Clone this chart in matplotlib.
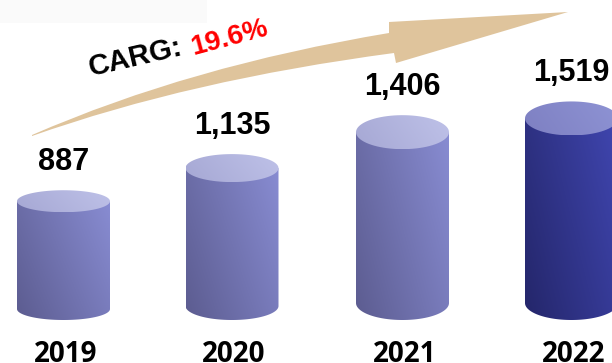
import numpy as np
import matplotlib.pyplot as plt
from matplotlib.path import Path
from matplotlib.patches import PathPatch, Rectangle

years = ["2019", "2020", "2021", "2022"]
values = [887, 1135, 1406, 1519]
value_labels = ["887", "1,135", "1,406", "1,519"]
growth_label = "19.6%"

# layout in pixel units (y grows downward)
W, H = 612, 363
centers = [63.5, 232, 402.5, 571.5]
half_w = 46.5
depth = [11, 14, 17, 17]          # half height of the ellipses
base = 320                        # lowest point of every cylinder
px_per_unit = 0.1215

# colours: (body dark, body light, cap dark, cap light)
plain = ((92, 92, 144), (136, 140, 210), (166, 168, 212), (190, 193, 232))
strong = ((36, 38, 106), (64, 70, 176), (126, 128, 194), (142, 147, 212))
styles = [plain, plain, plain, strong]


def gradient(c0, c1, nx, ny, wx):
    c0 = np.array(c0) / 255.0
    c1 = np.array(c1) / 255.0
    X, Y = np.meshgrid(np.linspace(0, 1, nx), np.linspace(0, 1, ny))
    s = wx * X + (1 - wx) * (1 - Y)
    return c0 + (c1 - c0) * s[..., None]


def ellipse_pts(cx, cy, a, b, t0, t1, n=80):
    t = np.linspace(t0, t1, n)
    return np.column_stack([cx + a * np.cos(t), cy + b * np.sin(t)])


fig = plt.figure(figsize=(W / 100, H / 100), dpi=100)
ax = fig.add_axes([0, 0, 1, 1])
ax.set_xlim(0, W)
ax.set_ylim(H, 0)
ax.axis("off")

ax.add_patch(Rectangle((0, 0), 207, 23, color="#fafafa", lw=0, zorder=0))

for i, v in enumerate(values):
    cx, b = centers[i], depth[i]
    yb = base - b
    yt = yb - v * px_per_unit
    x0, x1 = cx - half_w, cx + half_w
    bd, bl, cd, cl = styles[i]

    # body: sides plus the front half of the bottom ellipse
    pts = np.vstack([[(x0, yt), (x0, yb)],
                     ellipse_pts(cx, yb, half_w, b, np.pi, 0),
                     [(x1, yt)]])
    body = PathPatch(Path(pts, closed=False), fc="none", ec="none")
    ax.add_patch(body)
    im = ax.imshow(gradient(bd, bl, 60, 120, 0.65), extent=(x0, x1, yb + b, yt),
                   origin="upper", aspect="auto", interpolation="bilinear", zorder=2)
    im.set_clip_path(body)

    # top cap
    cap_pts = ellipse_pts(cx, yt, half_w, b, 0, 2 * np.pi)
    cap = PathPatch(Path(cap_pts, closed=True), fc="none", ec="none")
    ax.add_patch(cap)
    im2 = ax.imshow(gradient(cd, cl, 60, 30, 0.8), extent=(x0, x1, yt + b, yt - b),
                    origin="upper", aspect="auto", interpolation="bilinear", zorder=3)
    im2.set_clip_path(cap)

    ax.text(cx, yt - b - 20, value_labels[i], ha="center", va="baseline",
            fontsize=22, fontweight="bold", family="Liberation Sans", zorder=5)
    ax.text(cx + 2, 362, years[i], ha="center", va="baseline",
            fontsize=20, fontweight="bold", family="Open Sans", zorder=5)

# growth arrow
verts = [(32, 135), (190, 66), (389, 33), (389, 22), (568, 12),
         (396, 63), (394, 53), (190, 80), (32, 136), (32, 135)]
codes = [Path.MOVETO, Path.CURVE3, Path.CURVE3, Path.LINETO, Path.LINETO,
         Path.LINETO, Path.LINETO, Path.CURVE3, Path.CURVE3, Path.CLOSEPOLY]
ax.add_patch(PathPatch(Path(verts, codes), fc="#dfc49c", ec="none", zorder=4))

ax.text(91, 76, "CARG:", rotation=13, rotation_mode="anchor", ha="left", va="baseline",
        fontsize=21, fontweight="bold", family="Liberation Sans", zorder=5)
ax.text(193, 55, growth_label, rotation=15, rotation_mode="anchor", ha="left", va="baseline",
        fontsize=20, fontweight="bold", family="Liberation Sans", color="#ff0000", zorder=5)

fig.savefig("out.png", dpi=100)
